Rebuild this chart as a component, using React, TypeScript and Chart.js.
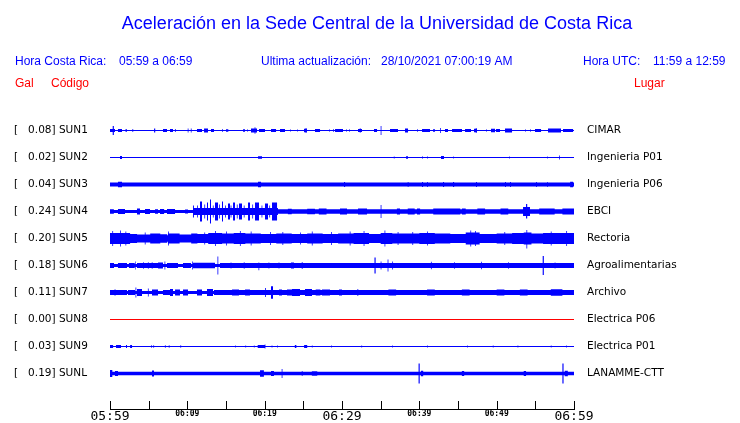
import React, { useEffect, useRef } from 'react';
import { Chart, registerables } from 'chart.js';

Chart.register(...registerables);

// ---------- text ----------
const titleText = 'Aceleración en la Sede Central de la Universidad de Costa Rica';
const localLabel = 'Hora Costa Rica:';
const localRange = '05:59 a 06:59';
const updateLabel = 'Ultima actualización:';
const updateStamp = '28/10/2021 07:00:19 AM';
const utcLabel = 'Hora UTC:';
const utcRange = '11:59 a 12:59';
const colGal = 'Gal';
const colCode = 'Código';
const colPlace = 'Lugar';

// ---------- stations ----------
const stationCodes = ['SUN1', 'SUN2', 'SUN3', 'SUN4', 'SUN5', 'SUN6', 'SUN7', 'SUN8', 'SUN9', 'SUNL'];
const peakGal = ['0.08', '0.02', '0.04', '0.24', '0.20', '0.18', '0.11', '0.00', '0.03', '0.19'];
const places = ['CIMAR', 'Ingenieria P01', 'Ingenieria P06', 'EBCI', 'Rectoria', 'Agroalimentarias', 'Archivo', 'Electrica P06', 'Electrica P01', 'LANAMME-CTT'];

// x axis: minutes after 05:59
const xTickLabels = ['05:59', '06:09', '06:19', '06:29', '06:39', '06:49', '06:59'];
const minorTickMinutes = [0, 5, 10, 15, 20, 25, 30, 35, 40, 45, 50, 55, 60];

// background noise half-amplitude of each trace
const baseAmp = [0.6, 0.5, 1.9, 1.4, 3.3, 1.5, 1.5, 0.5, 0.5, 1.8];

// bursts: [startMinute, endMinute, halfAmplitudeUp, halfAmplitudeDown?]
const sun1Bursts = [
  [0, 0.65, 1.5], [0.35, 0.5, 4.5], [1.03, 1.55, 1.5], [2.0, 2.2, 1.2], [2.9, 3.0, 1.5], [5.7, 5.85, 2],
  [6.85, 7.37, 1.5], [7.76, 8.15, 1.5], [8.4, 8.5, 1.5], [10.05, 10.15, 2], [10.45, 10.55, 2], [11.25, 11.9, 1.5],
  [12.16, 12.67, 2], [13.06, 13.45, 1.5], [14.48, 14.6, 1.3], [15.0, 15.3, 1.3], [17.2, 17.46, 1.3], [17.72, 17.8, 1.3],
  [18.23, 19.01, 2], [18.7, 18.8, 3.3], [19.27, 20.04, 1.5], [20.82, 21.47, 1.5], [21.98, 22.63, 1.5], [23.28, 23.35, 1.2],
  [24.18, 24.25, 1.2], [25.09, 25.47, 1.8], [25.3, 25.4, 2.5], [26.51, 27.16, 1.5], [28.32, 28.4, 1.2], [28.84, 28.95, 1.2],
  [29.1, 29.74, 1.5], [29.74, 30.13, 1.5], [30.52, 30.6, 1.2], [30.91, 31.0, 1.2], [32.07, 32.59, 1.5], [32.3, 32.4, 2.2],
  [34.14, 34.53, 1.5], [35.0, 35.1, 4.5], [36.21, 37.24, 1.5], [38.15, 38.54, 2], [39.7, 39.8, 1.2], [40.35, 41.38, 1.5],
  [41.77, 42.03, 1.3], [42.67, 42.77, 2.5], [43.32, 43.71, 1.5], [44.23, 45.52, 1.5], [45.91, 46.68, 1.5], [47.07, 47.46, 1.8],
  [47.3, 47.4, 2.5], [48.62, 48.7, 1.2], [49.27, 49.79, 1.8], [49.92, 50.43, 1.5], [51.08, 51.99, 2], [53.67, 53.75, 1.2],
  [54.31, 54.4, 1.2], [54.96, 55.74, 1.5], [56.64, 58.32, 2], [58.58, 59.88, 1.5],
];
const sun2Bursts = [
  [1.29, 1.55, 1.5], [19.14, 19.66, 1.3], [36.7, 36.8, 1], [38.28, 38.54, 1.3], [40.35, 40.48, 1], [40.99, 41.1, 1],
  [42.8, 43.19, 1.5], [44.36, 44.45, 1], [51.6, 51.7, 1], [56.51, 56.6, 1], [58.06, 58.16, 2],
];
const sun3Bursts = [
  [1.03, 1.55, 2.7], [19.14, 19.53, 2.7], [30.26, 30.4, 2.6], [38.5, 38.6, 2.6], [40.35, 40.48, 2.6], [40.99, 41.1, 2.6],
  [43.06, 43.2, 2.6], [44.36, 44.5, 2.6], [47.33, 47.45, 2.5], [51.08, 51.2, 2.6], [51.73, 51.85, 2.6], [55.09, 55.2, 2.5],
  [56.51, 56.6, 2.5], [59.5, 59.88, 2.8],
];
const sun4Bursts = [
  [0, 0.5, 2.3], [1.03, 1.94, 2.5], [3.49, 3.88, 3], [4.53, 5.17, 2.5], [5.82, 6.21, 2.2], [6.47, 7.0, 2.5],
  [7.37, 8.41, 2.5], [9.7, 10.09, 2], [10.73, 21.72, 3.5],
  [10.73, 10.85, 6], [11.25, 11.35, 6], [11.64, 11.9, 10], [12.2, 12.3, 7], [12.54, 12.67, 9], [12.93, 13.06, 12],
  [13.3, 13.4, 6], [13.58, 13.97, 9], [14.1, 14.2, 7], [14.48, 14.61, 10], [14.9, 15.0, 6], [15.26, 15.52, 8],
  [15.6, 15.7, 6], [15.91, 16.16, 9], [16.4, 16.5, 7], [16.68, 17.07, 8], [17.3, 17.4, 6], [17.85, 18.1, 9],
  [18.4, 18.5, 7], [18.75, 19.27, 9], [19.6, 19.7, 6], [20.04, 20.43, 8], [20.6, 20.7, 6], [20.95, 21.6, 9], [21.3, 21.4, 7],
  [21.72, 60, 2.2], [23.0, 23.5, 2.8], [25.5, 26.5, 2.8], [27.0, 28.0, 3], [29.74, 30.65, 3], [32.07, 33.24, 3],
  [35.0, 35.1, 6.5], [37.1, 37.5, 3], [38.5, 39.4, 3], [39.7, 40.1, 3], [41.8, 45.3, 3], [45.5, 46.0, 3],
  [47.5, 48.5, 3], [50.5, 51.5, 3], [53.41, 54.31, 4.5], [53.8, 53.95, 7.5, 7], [55.5, 57.5, 3], [58.5, 60, 3],
];
const sun5Bursts = [
  [0, 2.6, 5.5], [0.3, 0.4, 7.5], [1.3, 1.4, 8], [2.0, 2.1, 7], [2.6, 3.5, 4.5], [3.5, 5.2, 4], [4.5, 4.6, 6],
  [5.2, 6.5, 5], [6.5, 7.4, 4.2], [7.5, 7.6, 7], [7.6, 9.0, 5], [9.0, 10.5, 4], [10.5, 11.3, 5], [11.3, 12.7, 4.5],
  [12.2, 12.3, 6], [12.7, 14.5, 5.5], [13.6, 13.7, 7.5], [14.5, 16.0, 5], [15.0, 15.1, 7], [16.0, 17.5, 5.5],
  [16.8, 16.9, 7.5], [17.5, 19.5, 5], [18.2, 18.3, 7], [19.5, 21.5, 4.5], [20.7, 20.8, 6.5], [21.5, 23.5, 5],
  [22.3, 22.4, 6.5], [23.5, 25.5, 4.5], [24.6, 24.7, 6], [25.5, 27.5, 5], [26.1, 26.2, 7], [27.5, 29.5, 4.5],
  [28.6, 28.7, 6.5], [29.5, 31.5, 5], [31.0, 31.1, 7], [31.5, 33.5, 5.5], [32.8, 32.9, 7.5], [33.5, 35.0, 4.5],
  [35.0, 36.5, 5.5], [35.5, 35.6, 8], [36.5, 38.0, 5], [37.2, 37.3, 6.5], [38.0, 40.0, 5], [39.1, 39.2, 6.5],
  [40.0, 42.0, 5.5], [41.0, 41.1, 7], [42.0, 44.0, 5], [44.0, 46.0, 4.5], [46.0, 47.8, 6], [46.6, 46.7, 8],
  [47.2, 47.3, 7.5], [47.8, 50.0, 4.5], [50.0, 52.0, 5], [51.0, 51.1, 6.5], [52.0, 53.5, 5.5], [53.5, 54.5, 6],
  [53.85, 53.95, 8.5, 10], [54.5, 56.0, 5], [56.0, 58.0, 5.5], [57.0, 57.1, 7], [58.0, 60, 5.5], [59.0, 59.1, 7.5],
];
const sun6Bursts = [
  [0, 0.52, 2.5], [1.03, 2.2, 2.5], [2.45, 3.2, 2.5], [3.28, 3.36, 4], [3.49, 6.21, 2.5], [4.3, 4.4, 3.2],
  [4.9, 5.0, 3.2], [5.4, 5.5, 3.2], [6.21, 6.85, 3], [7.05, 7.15, 4], [7.37, 8.79, 2.5], [9.44, 10.48, 2.5],
  [10.6, 10.7, 4], [10.73, 13.58, 2.7], [13.9, 14.0, 9], [14.22, 60, 2.4], [15.6, 15.7, 3], [17.3, 17.4, 3.2],
  [19.2, 19.3, 3, 4.7], [20.5, 20.6, 3], [21.8, 21.9, 3], [23.4, 23.8, 3], [24.8, 24.9, 3.6], [34.2, 34.35, 8],
  [35.0, 35.1, 4], [35.9, 36.0, 6], [36.5, 36.6, 4], [41.5, 41.6, 3.8], [44.5, 44.6, 3.2], [48.0, 48.1, 3.8],
  [51.5, 51.6, 3.2], [55.95, 56.1, 9.5], [57.5, 57.6, 3],
];
const sun7Bursts = [
  [0, 2.2, 2.6], [0.6, 0.7, 3.2], [2.33, 3.23, 2.6], [3.3, 3.4, 5], [3.49, 4.14, 3.5], [4.9, 5.0, 4],
  [5.43, 6.21, 3], [6.85, 8.15, 2.6], [7.76, 8.15, 3.5], [8.41, 9.05, 3], [9.44, 10.09, 3], [11.25, 11.9, 3],
  [12.54, 13.32, 3.5], [13.45, 60, 2.5], [15.78, 16.68, 3], [17.46, 18.1, 3], [20.04, 20.15, 4.5], [20.82, 21.08, 6.3],
  [21.85, 22.24, 3], [22.89, 23.54, 3], [23.54, 24.57, 3.5], [25.22, 26.12, 3.5], [26.6, 27.2, 3], [27.41, 28.45, 3],
  [29.61, 30.0, 3], [32.0, 32.1, 3.5], [36, 37, 3], [41.0, 42.0, 3], [45.5, 46.5, 3], [50, 51, 3], [53, 54, 3],
  [57, 58.5, 3.2],
];
const sun8Bursts = [];
const sun9Bursts = [
  [0, 0.3, 1.5], [0.3, 0.4, 1.5], [0.78, 1.42, 1.5], [2.07, 2.2, 1.5], [2.6, 2.85, 1.5], [5.3, 5.4, 1.2],
  [5.6, 5.7, 1.2], [7.1, 7.2, 1.2], [7.6, 7.7, 1.2], [9.1, 9.2, 1.2], [16.2, 16.3, 1], [17.5, 17.6, 1],
  [18.6, 18.7, 1], [19.1, 20.0, 1.5], [20.0, 20.1, 2], [20.9, 21.0, 1], [21.6, 21.7, 1], [23.9, 24.1, 1.5],
  [25.1, 25.5, 1.5], [26.1, 26.2, 1], [28.6, 28.7, 1], [32.5, 32.6, 1], [36.5, 36.6, 1], [41, 41.1, 1],
  [46.2, 46.3, 1], [49.5, 49.6, 1], [52.7, 52.8, 1], [57, 57.1, 1], [59, 59.1, 1],
];
const sunLBursts = [
  [0, 0.3, 3.5], [0.65, 1.03, 2.5], [5.43, 5.69, 3], [19.4, 19.9, 3.2], [20.82, 21.2, 2.6], [22.2, 22.3, 4.5],
  [24.8, 24.9, 2.5], [26.1, 26.8, 2.3], [39.9, 40.05, 10], [40.2, 40.5, 2.8], [45.5, 45.8, 2.6],
  [53.5, 53.8, 2.5], [58.5, 58.65, 10], [58.8, 59.2, 2.8],
];

const stationBursts = [sun1Bursts, sun2Bursts, sun3Bursts, sun4Bursts, sun5Bursts, sun6Bursts, sun7Bursts, sun8Bursts, sun9Bursts, sunLBursts];
const traceColors = ['#0000ff', '#0000ff', '#0000ff', '#0000ff', '#0000ff', '#0000ff', '#0000ff', '#ff0000', '#0000ff', '#0000ff'];

const ROW_GAP = 27;
const rowValue = (i: number) => (stationCodes.length - 1 - i) * ROW_GAP;
const rowIndex = (v: number) => stationCodes.length - 1 - Math.round(v / ROW_GAP);

function envelope(base: number, segs: number[][]) {
  const set = new Set<number>([0, 60]);
  segs.forEach((s) => { set.add(s[0]); set.add(s[1]); });
  const xs = Array.from(set).sort((a, b) => a - b);
  const up: { x: number; y: number }[] = [];
  const dn: { x: number; y: number }[] = [];
  for (let k = 0; k < xs.length - 1; k++) {
    const mid = (xs[k] + xs[k + 1]) / 2;
    let u = base;
    let d = base;
    for (const s of segs) {
      if (mid >= s[0] && mid < s[1]) {
        u = Math.max(u, s[2]);
        d = Math.max(d, s.length > 3 ? s[3] : s[2]);
      }
    }
    up.push({ x: xs[k], y: u });
    dn.push({ x: xs[k], y: d });
  }
  up.push({ x: 60, y: up[up.length - 1].y });
  dn.push({ x: 60, y: dn[dn.length - 1].y });
  return { up, dn };
}

const BLUE = '#0000ff';
const RED = '#ff0000';
const SANS = "'Liberation Sans', Arial, sans-serif";

const decorPlugin = {
  id: 'decor',
  afterDraw(chart: any) {
    const { ctx, chartArea } = chart;
    const xs = chart.scales.x;
    ctx.save();
    // time axis line and tick marks
    ctx.strokeStyle = '#000';
    ctx.lineWidth = 1;
    ctx.beginPath();
    const yAxis = Math.round(chartArea.bottom) + 0.5;
    ctx.moveTo(Math.round(xs.getPixelForValue(0)), yAxis);
    ctx.lineTo(Math.round(xs.getPixelForValue(60)) + 1, yAxis);
    minorTickMinutes.forEach((m) => {
      const px = Math.round(xs.getPixelForValue(m)) + 0.5;
      ctx.moveTo(px, yAxis);
      ctx.lineTo(px, yAxis - 8.5);
    });
    ctx.stroke();

    // header
    ctx.textBaseline = 'alphabetic';
    ctx.fillStyle = BLUE;
    ctx.font = `18px ${SANS}`;
    ctx.textAlign = 'center';
    ctx.fillText(titleText, 377, 29);
    ctx.textAlign = 'left';
    ctx.font = `12px ${SANS}`;
    ctx.fillText(localLabel, 15, 65);
    ctx.fillText(localRange, 119, 65);
    ctx.fillText(updateLabel, 261, 65);
    ctx.fillText(updateStamp, 381, 65);
    ctx.fillText(utcLabel, 583, 65);
    ctx.fillText(utcRange, 653, 65);
    ctx.fillStyle = RED;
    ctx.fillText(colGal, 15, 87);
    ctx.fillText(colCode, 51, 87);
    ctx.fillText(colPlace, 634, 87);
    ctx.restore();
  },
};

export default function App() {
  const ref = useRef<HTMLCanvasElement | null>(null);

  useEffect(() => {
    if (!ref.current) return;
    const datasets: any[] = [];
    stationCodes.forEach((code, i) => {
      const b = rowValue(i);
      const env = envelope(baseAmp[i], stationBursts[i]);
      datasets.push({
        label: code,
        data: env.up.map((p) => ({ x: p.x, y: b + p.y })),
        stepped: 'before',
        fill: '+1',
        backgroundColor: traceColors[i],
        borderColor: 'rgba(0,0,0,0)',
        borderWidth: 0,
        pointRadius: 0,
      });
      datasets.push({
        label: code + ' low',
        data: env.dn.map((p) => ({ x: p.x, y: b - p.y })),
        stepped: 'before',
        fill: false,
        backgroundColor: traceColors[i],
        borderColor: 'rgba(0,0,0,0)',
        borderWidth: 0,
        pointRadius: 0,
      });
    });

    const rowTicks = (scale: any) => {
      scale.ticks = stationCodes.map((_, i) => ({ value: rowValue(i) })).sort((a, b) => a.value - b.value);
    };
    const labelFont = { family: "'DejaVu Sans', sans-serif", size: 10.5 };

    const chart = new Chart(ref.current, {
      type: 'line',
      data: { datasets },
      plugins: [decorPlugin],
      options: {
        responsive: false,
        animation: false,
        events: [],
        layout: { padding: { left: 14, top: 100, right: 0, bottom: 0 } },
        plugins: { legend: { display: false }, tooltip: { enabled: false }, title: { display: false } },
        scales: {
          x: {
            type: 'linear',
            position: 'bottom',
            min: 0,
            max: 60,
            grid: { display: false, drawTicks: false },
            border: { display: false },
            afterFit: (s: any) => { s.height = 14; },
            ticks: {
              stepSize: 10,
              autoSkip: false,
              maxRotation: 0,
              padding: 0,
              color: '#000',
              callback: (v: any) => xTickLabels[Math.round(Number(v) / 10)],
              font: (c: any) => (c.tick && c.tick.value % 30 === 0
                ? { family: "'DejaVu Sans Mono', monospace", size: 13 }
                : { family: "'DejaVu Sans Mono', monospace", size: 8, weight: 'bold' }),
            },
          },
          y: {
            type: 'linear',
            position: 'left',
            min: -35.5,
            max: 273.5,
            grid: { display: false, drawTicks: false },
            border: { display: false },
            afterBuildTicks: rowTicks,
            afterFit: (s: any) => { s.width = 96; s.paddingTop = 0; s.paddingBottom = 0; },
            ticks: {
              autoSkip: false,
              crossAlign: 'far',
              padding: 0,
              color: '#000',
              font: labelFont,
              callback: (v: any) => { const i = rowIndex(Number(v)); return `[   ${peakGal[i]}] ${stationCodes[i]}`; },
            },
          },
          y2: {
            type: 'linear',
            position: 'right',
            min: -35.5,
            max: 273.5,
            grid: { display: false, drawTicks: false },
            border: { display: false },
            afterBuildTicks: rowTicks,
            afterFit: (s: any) => { s.width = 166; s.paddingTop = 0; s.paddingBottom = 0; },
            ticks: {
              autoSkip: false,
              crossAlign: 'near',
              padding: 13,
              color: '#000',
              font: labelFont,
              callback: (v: any) => places[rowIndex(Number(v))],
            },
          },
        },
      } as any,
    });
    return () => chart.destroy();
  }, []);

  return (
    <div style={{ position: 'fixed', left: 0, top: 0, width: 740, height: 423, background: '#fff' }}>
      <canvas ref={ref} width={740} height={423} style={{ display: 'block', width: 740, height: 423 }} />
    </div>
  );
}
